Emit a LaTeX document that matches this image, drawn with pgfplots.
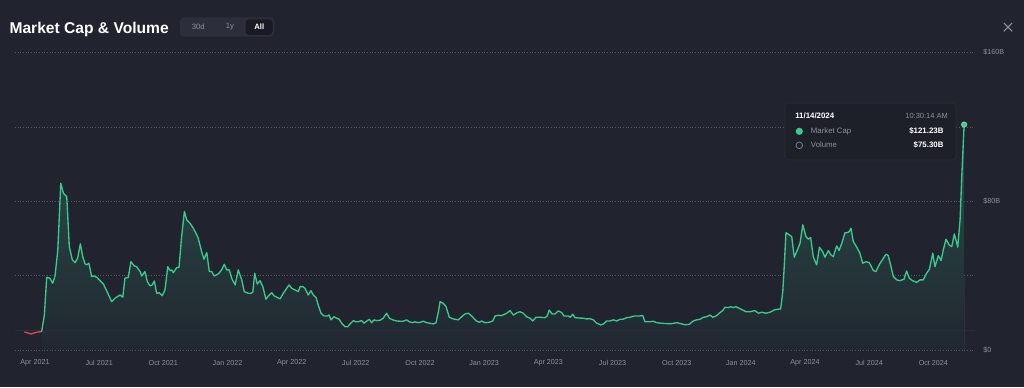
\documentclass[border=0pt]{standalone}
\usepackage{fontspec}
\setmainfont{Liberation Sans}
\usepackage{pgfplots}
\usepackage{pgfplotstable}
\pgfplotsset{compat=1.18}

\definecolor{bg}{HTML}{21232F}
\definecolor{mcgreen}{HTML}{3ACB8C}
\definecolor{mcred}{HTML}{DC4650}
\definecolor{gridc}{HTML}{555867}
\definecolor{labc}{HTML}{8E919D}
\definecolor{volc}{HTML}{3A3F6C}
\definecolor{tipbg}{HTML}{1E2029}
\definecolor{tipbd}{HTML}{2B2D39}
\definecolor{btnbg}{HTML}{2C2E3B}
\definecolor{btnsel}{HTML}{191A23}
\definecolor{basec}{HTML}{2A2D3B}

\pgfplotstableread{
x y
2.50 9.7
2.67 9.15
2.81 8.6
2.95 9.15
3.14 9.7
3.31 9.85
}\reddata

\pgfplotstableread{
x y
3.31 9.85
3.44 18.8
3.55 39.1
3.70 38.6
3.83 35.9
3.94 39.8
4.07 53.8
4.21 89.7
4.33 84.4
4.41 83.4
4.49 82.5
4.61 55.6
4.75 48.5
4.88 47.0
5.00 49.4
5.13 57.1
5.24 50.2
5.35 46.3
5.43 45.8
5.53 46.7
5.66 39.5
5.77 39.8
5.90 39.1
6.05 37.3
6.21 35.5
6.36 31.9
6.60 26.0
6.75 27.8
6.99 29.6
7.12 28.4
7.22 38.6
7.38 39.1
7.50 47.5
7.66 45.2
7.77 44.8
7.93 42.2
8.01 39.8
8.16 42.2
8.27 36.8
8.40 34.5
8.50 35.0
8.60 37.1
8.71 30.5
8.83 30.8
8.97 29.2
9.10 32.3
9.23 44.8
9.34 42.7
9.41 43.1
9.49 41.6
9.65 44.3
9.76 44.5
9.88 61.0
10.01 74.5
10.12 70.0
10.27 68.2
10.43 65.5
10.59 61.9
10.66 60.1
10.82 52.9
10.93 48.8
11.06 52.4
11.18 42.2
11.29 42.2
11.41 39.8
11.60 40.9
11.76 43.1
11.88 46.1
12.00 43.1
12.12 43.1
12.23 38.6
12.39 35.0
12.54 43.1
12.70 37.7
12.82 31.4
13.01 30.5
13.14 30.5
13.22 31.1
13.31 41.3
13.43 35.5
13.56 37.3
13.69 34.1
13.84 27.3
13.95 29.1
14.11 30.8
14.22 29.1
14.34 28.4
14.50 27.5
14.65 30.5
14.81 33.2
14.92 35.0
15.05 33.2
15.20 32.3
15.36 31.4
15.44 34.1
15.56 34.1
15.67 33.2
15.82 29.6
15.95 31.9
16.06 29.6
16.19 28.2
16.29 24.2
16.42 19.8
16.56 18.3
16.72 18.3
16.80 18.8
16.89 16.2
17.03 17.9
17.16 17.1
17.28 16.5
17.39 14.4
17.55 12.5
17.67 12.5
17.78 14.0
17.94 15.8
18.06 15.2
18.17 15.2
18.33 15.8
18.44 14.4
18.57 15.6
18.69 16.5
18.80 14.7
18.91 16.2
19.04 15.8
19.19 16.0
19.34 17.1
19.50 19.8
19.63 17.1
19.79 16.2
19.97 15.6
20.13 15.5
20.28 15.5
20.44 16.2
20.56 15.2
20.72 14.7
20.83 15.2
20.96 14.7
21.07 14.9
21.22 15.5
21.38 14.7
21.54 14.4
21.69 14.0
21.82 14.7
21.93 20.6
22.01 26.0
22.16 25.1
22.29 23.3
22.44 17.6
22.63 16.7
22.86 16.2
23.02 17.9
23.18 19.4
23.33 19.8
23.49 18.3
23.69 15.8
23.85 14.9
23.96 15.6
24.12 14.7
24.32 14.9
24.48 15.6
24.59 18.3
24.74 18.7
24.90 18.5
25.14 19.8
25.29 21.2
25.45 18.8
25.63 20.1
25.76 20.6
25.91 19.8
26.07 17.9
26.23 17.1
26.36 15.6
26.51 17.6
26.70 17.6
26.93 17.4
27.04 18.3
27.13 21.5
27.26 19.4
27.40 19.4
27.56 21.0
27.72 20.1
27.82 18.3
28.03 18.3
28.11 17.6
28.23 19.2
28.35 17.4
28.50 17.2
28.73 17.1
28.89 16.7
29.04 16.9
29.20 16.2
29.36 14.4
29.55 13.5
29.67 14.0
29.83 15.6
29.98 15.6
30.14 16.2
30.30 15.6
30.45 16.5
30.58 16.5
30.77 17.4
30.92 17.6
31.11 18.3
31.36 18.3
31.52 18.5
31.62 15.2
31.86 15.2
32.01 15.5
32.17 14.7
32.41 14.4
32.64 14.2
32.88 14.2
33.11 14.7
33.30 14.2
33.50 13.6
33.70 13.8
33.89 15.6
34.05 16.2
34.21 16.5
34.36 17.6
34.52 17.9
34.68 18.8
34.80 17.6
34.96 18.3
35.11 19.8
35.27 21.2
35.38 23.0
35.53 22.8
35.65 23.3
35.77 22.8
35.89 23.3
36.05 22.4
36.21 21.5
36.36 20.6
36.55 20.6
36.79 21.2
36.94 19.8
37.10 20.3
37.30 19.8
37.49 20.3
37.68 21.5
37.83 21.9
37.99 22.1
38.09 31.4
38.15 43.1
38.24 63.1
38.35 62.3
38.51 61.0
38.63 49.9
38.74 52.9
38.90 57.4
39.03 67.3
39.18 61.0
39.29 59.6
39.40 60.5
39.52 50.2
39.68 45.8
39.81 55.3
39.96 52.9
40.07 49.9
40.23 53.5
40.35 51.1
40.46 50.2
40.62 56.0
40.73 53.5
40.86 57.4
41.01 63.1
41.12 63.1
41.21 63.7
41.29 65.5
41.40 58.3
41.56 55.3
41.71 52.1
41.84 46.7
42.00 47.5
42.15 47.0
42.34 42.7
42.46 42.2
42.61 45.8
42.78 48.8
42.93 51.5
43.04 50.8
43.17 44.8
43.28 39.5
43.44 37.7
43.59 37.3
43.78 38.1
43.90 42.5
44.03 38.6
44.18 37.3
44.37 36.4
44.53 37.7
44.68 37.7
44.84 41.3
44.97 43.4
45.13 52.1
45.23 44.8
45.39 50.8
45.52 48.1
45.62 53.8
45.75 59.6
45.90 56.5
46.02 55.6
46.14 62.4
46.22 59.2
46.30 55.3
46.41 70.0
46.49 93.3
46.60 121.23
}\greendata

\pgfplotstableread{
x v
3.47 20.6
3.58 12.1
3.70 8.6
3.83 6.9
4.09 10.3
4.20 20.6
4.32 17.2
4.48 12.1
4.64 13.7
4.76 5.2
5.18 3.4
5.50 1.5
5.88 2.4
6.50 2.0
7.29 6.9
7.44 5.9
8.00 1.5
9.16 17.2
9.31 5.2
9.62 6.9
9.91 13.7
10.01 10.3
10.17 7.9
10.33 5.9
10.56 4.4
11.00 3.0
11.50 2.5
12.50 2.0
13.30 2.5
14.00 1.5
15.00 2.0
16.50 3.0
17.00 2.0
18.00 1.2
19.50 2.0
21.93 13.4
22.20 4.0
23.00 1.5
25.30 1.5
27.20 1.8
29.00 1.0
31.50 1.2
34.00 1.0
35.30 2.0
36.50 1.5
37.50 1.5
38.00 3.0
38.11 23.7
38.26 12.4
38.45 10.3
38.61 8.2
38.89 9.3
39.08 6.9
39.38 8.6
39.62 5.2
40.48 7.9
40.71 10.3
40.87 6.9
41.10 5.2
42.00 2.0
43.00 1.5
44.00 2.0
45.20 3.0
45.70 2.5
46.00 3.0
46.32 41.2
46.43 75.3
}\voldata

\begin{document}
\begin{tikzpicture}
\fill[bg] (0,0) rectangle (768pt,290.25pt);

% volume (own scale)
\begin{axis}[at={(11.25pt,27.75pt)}, anchor=south west,
  scale only axis, width=720pt, height=223.125pt,
  xmin=2.065, xmax=46.946, ymin=0, ymax=307,
  hide axis, clip=false]
  \addplot[ybar, bar width=0.8pt, fill=volc, draw=none, fill opacity=0.7]
    table[x=x, y=v] {\voldata};
\end{axis}

% market cap
\begin{axis}[at={(11.25pt,27.75pt)}, anchor=south west,
  scale only axis, width=720pt, height=223.125pt,
  xmin=2.065, xmax=46.946, ymin=0, ymax=160,
  axis line style={draw=none}, major tick length=0pt,
  /pgf/number format/assume math mode=true,
  xtick={3,6,...,45},
  xticklabels={Apr 2021,Jul 2021,Oct 2021,Jan 2022,Apr 2022,Jul 2022,Oct 2022,Jan 2023,Apr 2023,Jul 2023,Oct 2023,Jan 2024,Apr 2024,Jul 2024,Oct 2024},
  ytick={0,40,80,120,160},
  yticklabels={\$0,,\$80B,,\$160B},
  yticklabel pos=right,
  ymajorgrids,
  grid style={gridc, line width=0.5pt, dash pattern=on 0.75pt off 1.25pt},
  xticklabel style={font=\fontsize{5.4}{6}\selectfont, text=labc, anchor=center, inner sep=0pt, yshift=-9.75pt},
  yticklabel style={font=\fontsize{5.4}{6}\selectfont, text=labc, anchor=west, inner sep=0pt, xshift=6pt},
  clip=false]
  \addplot[draw=none, top color=mcgreen!27!bg, bottom color=mcgreen!2!bg]
    table[x expr={3+(\thisrow{x}-3)*0.99626}, y=y] {\greendata} \closedcycle;
  \addplot[basec, line width=0.5pt] coordinates {(2.065,10.5) (46.946,10.5)};
  \addplot[mcred, line width=1pt, line join=round]
    table[x expr={3+(\thisrow{x}-3)*0.99626}, y=y] {\reddata};
  \addplot[mcgreen, line width=1pt, line join=round]
    table[x expr={3+(\thisrow{x}-3)*0.99626}, y=y] {\greendata};
  \addplot[only marks, mark=*, mark size=2pt, mark options={fill=mcgreen, draw=mcgreen!60!white, line width=0.5pt}]
    coordinates {(46.437,121.23)};
\end{axis}

\begin{scope}[shift={(0,290.25pt)}, x=0.75pt, y=-0.75pt]
  % title
  \node[anchor=base west, inner sep=0pt, text=white, font=\bfseries\fontsize{11.7}{14}\selectfont] at (9.3,33.3) {Market Cap \& Volume};
  % range buttons
  \fill[btnbg, rounded corners=3pt] (180,17.3) rectangle (274.3,36.7);
  \fill[btnsel, rounded corners=2.5pt] (245.7,19.3) rectangle (272.5,34.8);
  \node[inner sep=0pt, text=labc, font=\fontsize{5.8}{7}\selectfont] at (198.3,27) {30d};
  \node[inner sep=0pt, text=labc, font=\fontsize{5.8}{7}\selectfont] at (230,27) {1y};
  \node[inner sep=0pt, text=white, font=\bfseries\fontsize{5.8}{7}\selectfont] at (259.3,27) {All};
  % close
  \draw[labc, line width=0.8pt] (1003.8,23) -- (1012.2,31.4) (1003.8,31.4) -- (1012.2,23);
  % tooltip
  \filldraw[fill=tipbg, draw=tipbd, line width=0.4pt, rounded corners=3pt] (785,103) rectangle (956,160);
  \node[anchor=base west, inner sep=0pt, text=white, font=\bfseries\fontsize{5.9}{7}\selectfont] at (795,118.5) {11/14/2024};
  \node[anchor=base east, inner sep=0pt, text=labc, font=\fontsize{5.6}{7}\selectfont] at (948,118.5) {10:30:14 AM};
  \fill[mcgreen] (799.3,131.3) circle (3.6);
  \node[anchor=base west, inner sep=0pt, text=labc, font=\fontsize{5.85}{7}\selectfont] at (810.7,133.5) {Market Cap};
  \node[anchor=base east, inner sep=0pt, text=white, font=\bfseries\fontsize{5.9}{7}\selectfont] at (943.7,133.5) {\$121.23B};
  \draw[volc!70!white, line width=0.6pt] (799.3,145.3) circle (3.3);
  \node[anchor=base west, inner sep=0pt, text=labc, font=\fontsize{5.85}{7}\selectfont] at (810.7,147.5) {Volume};
  \node[anchor=base east, inner sep=0pt, text=white, font=\bfseries\fontsize{5.9}{7}\selectfont] at (943.7,147.5) {\$75.30B};
\end{scope}

\pgfresetboundingbox
\path (0,0) rectangle (768pt,290.25pt);
\end{tikzpicture}
\end{document}
